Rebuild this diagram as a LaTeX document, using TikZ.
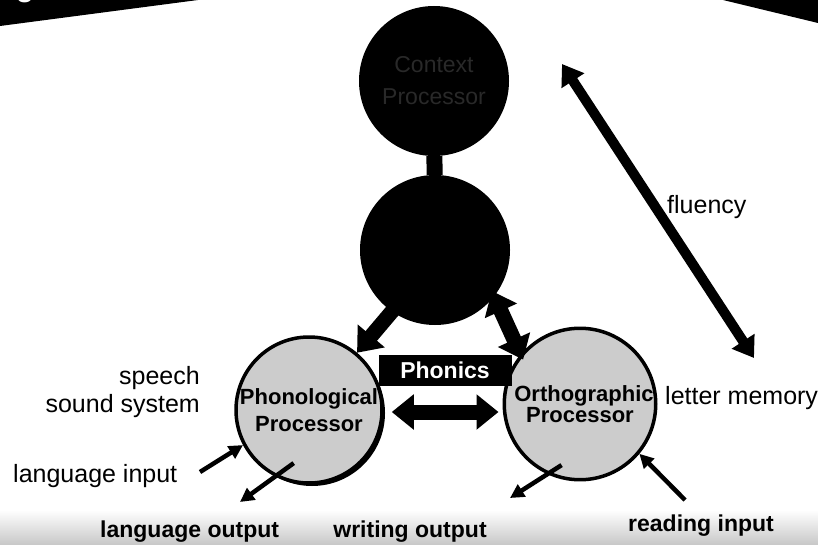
\documentclass[tikz,border=0pt]{standalone}
\usepackage{fontspec}
\setmainfont{Liberation Sans}
\usetikzlibrary{arrows.meta,positioning}

\begin{document}
\begin{tikzpicture}[x=1pt, y=-1pt,
    blackball/.style={circle, fill=black, minimum size=150pt, inner sep=0pt, align=center},
    procball/.style={circle, fill=black!20, draw=black, line width=3.5pt, minimum size=146pt, inner sep=0pt, align=center},
    fatarrow/.style={line width=15pt, -{Triangle[width=34pt,length=22pt]}},
    fatboth/.style={line width=15pt, {Triangle[width=34pt,length=22pt]}-{Triangle[width=34pt,length=22pt]}},
    thinarrow/.style={line width=4.5pt, -{Triangle[width=14pt,length=14pt]}},
    note/.style={inner sep=0pt, font=\fontsize{25}{28}\selectfont},
    boldnote/.style={inner sep=0pt, font=\bfseries\fontsize{23}{25}\selectfont}]
  \useasboundingbox (0,0) rectangle (818,545);
  % top banner and speckled bottom strip
  \fill (0,0) -- (198,0) -- (0,26) -- cycle;
  \node[white, anchor=base, font=\bfseries\fontsize{30}{30}\selectfont] (ttl) at (25,-3) {g};
  \fill (723,0) -- (818,0) -- (818,23) -- cycle;
  \shade[top color=white, bottom color=black!22] (0,510) rectangle (818,545);

  % processors
  \node[blackball, text=black!84, font=\fontsize{23}{32}\selectfont] (ctx) at (434,81) {Context\\Processor};
  \node[blackball] (mng) at (435,250) {};
  \draw[line width=16pt] (ctx) -- (mng);
  \fill (312,413) circle (73pt);
  \fill (583,407) circle (73pt);
  \node[procball, font=\bfseries\fontsize{22}{27}\selectfont] (phon) at (309,410) {Phonological\\Processor};
  \node[procball, font=\bfseries\fontsize{22}{21}\selectfont] (orth) at (580,404) {\hspace*{8pt}Orthographic\\Processor};
  \node[fill=black, text=white, minimum width=133pt, minimum height=31pt, inner sep=0pt,
    font=\bfseries\fontsize{23}{23}\selectfont] (phx) at (445,370) {Phonics};

  % links between processors
  \draw[fatarrow, shorten <=-14pt] (mng.235) -- (phon.50);
  \draw[fatboth, shorten <=-6pt, shorten >=-6pt] (mng.322) -- (orth.140);
  \draw[fatboth] ([shift={(8pt,-2pt)}]phon.east) -- ([shift={(-4pt,-8pt)}]orth.west);
  \coordinate (fl1) at (562,64);
  \coordinate (fl2) at (754,358);
  \draw[line width=10pt, {Triangle[width=26pt,length=20pt]}-{Triangle[width=26pt,length=20pt]}] (fl1) -- (fl2);

  % inputs and outputs
  \coordinate (li) at (200,472);
  \coordinate (lo) at (240,502);
  \coordinate (wo) at (510,498);
  \coordinate (ri) at (685,500);
  \draw[thinarrow] (li) -- (phon.208);
  \draw[thinarrow, shorten <=-23pt] (phon.243) -- (lo);
  \draw[thinarrow, shorten <=-17pt] (orth.245) -- (wo);
  \draw[thinarrow] (ri) -- (orth.-40);

  % labels
  \node[note, anchor=east, align=right] (snd) at (200,392) {speech\\sound system};
  \node[note, anchor=west] (lm) at (665,398) {letter memory};
  \node[note, anchor=west] (flu) at (667,207) {fluency};
  \node[note, anchor=west] (lin) at (13,476) {language input};
  \node[boldnote, anchor=west] (lout) at (100,532) {language output};
  \node[boldnote] (wout) at (410,532) {writing output};
  \node[boldnote, anchor=west] (rin) at (628,526) {reading input};
\end{tikzpicture}
\end{document}
